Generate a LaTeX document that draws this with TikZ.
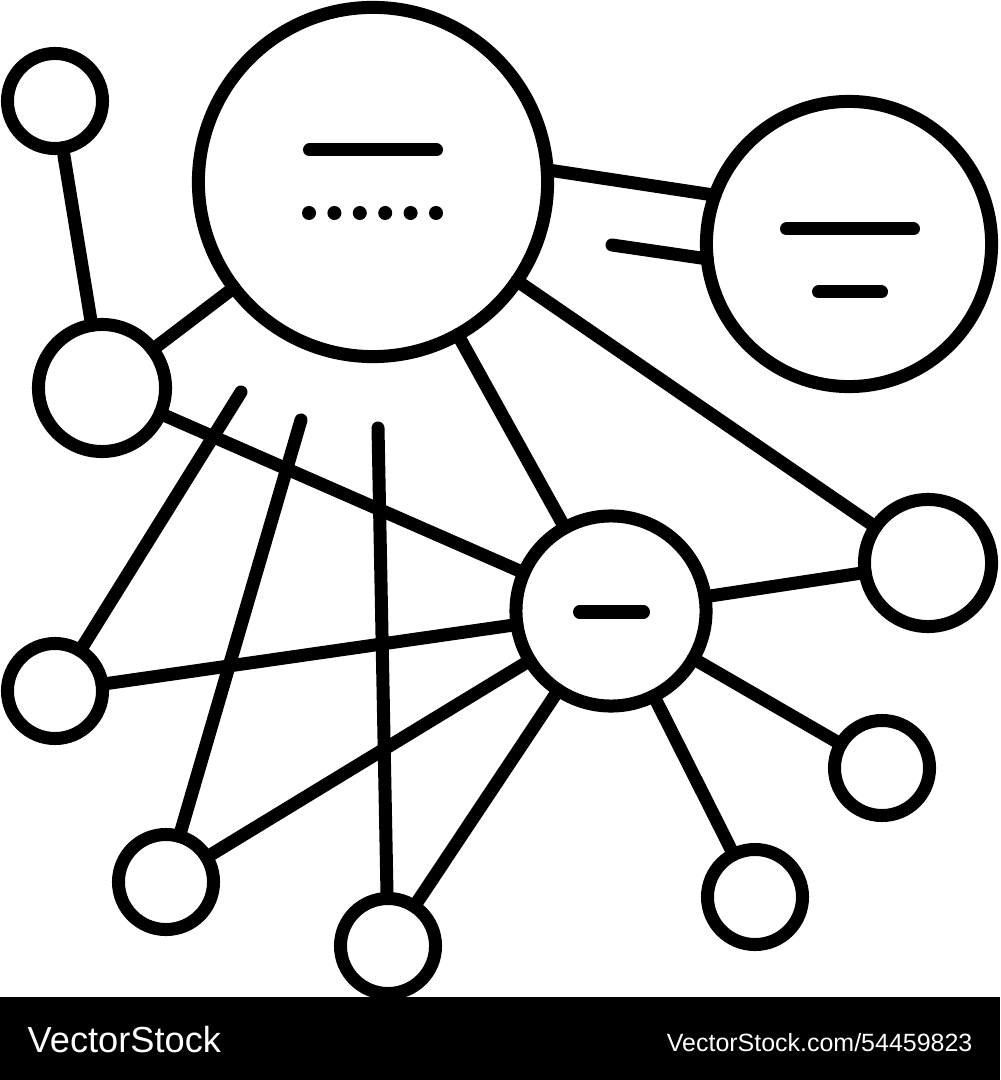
\documentclass[tikz,border=0pt]{standalone}
\usepackage{fontspec}
\setmainfont{Liberation Sans}
\begin{document}
\begin{tikzpicture}[line join=round,line cap=round,x=0.01cm,y=-0.01cm]
  \tikzset{hub/.style={circle,draw,line width=0.13cm,inner sep=0pt,outer sep=0pt,minimum size=#1},
           link/.style={line width=0.13cm},
           wm/.style={text=white,inner sep=0pt,font=\fontsize{10.3}{12}\selectfont}}
  \useasboundingbox (0,0) rectangle (1000,1080);
  \fill (0,997) rectangle (1000,1080);
  % circles
  \node[hub=3.49cm] (big) at (373,182) {};
  \node[hub=2.85cm] (rt) at (849,244) {};
  \node[hub=1.90cm] (mid) at (611,611) {};
  \node[hub=1.27cm] (lf) at (102,388) {};
  \node[hub=1.27cm] (ri) at (928,563) {};
  \node[hub=0.95cm] (tl) at (55,101) {};
  \node[hub=0.95cm] (lsm) at (55,691) {};
  \node[hub=0.95cm] (bl) at (166,882) {};
  \node[hub=0.95cm] (bt) at (388,946) {};
  \node[hub=0.95cm] (br) at (755,897) {};
  \node[hub=0.95cm] (rl) at (882,768) {};
  % marks inside
  \draw[link] ([shift={(-63.5,-32)}]big.center) -- ++(127,0);
  \foreach \i in {0,...,5}
    \fill ([shift={(-64+25.4*\i,31)}]big.center) circle (0.07cm);
  \draw[link] ([shift={(-62.5,-15)}]rt.center) -- ++(127,0);
  \draw[link] ([shift={(-30.5,48)}]rt.center) -- ++(63,0);
  \draw[link] ([shift={(-31.5,1)}]mid.center) -- ++(64,0);
  % loose ends
  \coordinate (stub) at (612,245);
  \coordinate (p1) at (241,392);
  \coordinate (p2) at (301,420);
  \coordinate (p3) at (378,428);
  % links
  \draw[link] (tl) -- (lf);
  \draw[link] (lf) -- (big);
  \draw[link] (big.4) -- (rt.160);
  \draw[link] (stub) -- (rt.186);
  \draw[link] (big) -- (ri);
  \draw[link] (big) -- (mid);
  \draw[link] (lf) -- (mid);
  \draw[link] (mid) -- (ri);
  \draw[link] (lsm) -- (mid);
  \foreach \n in {bl,bt,br,rl}
    \draw[link] (mid) -- (\n);
  \draw[link] (p1) -- (lsm);
  \draw[link] (p2) -- (bl);
  \draw[link] (p3) -- (bt);
  % band text
  \node[wm,anchor=base west] (brand) at (27,1052) {VectorStock};
  \node[wm,anchor=base east,font=\fontsize{7.1}{9}\selectfont] (ref) at (973,1051) {VectorStock.com/54459823};
\end{tikzpicture}
\end{document}
